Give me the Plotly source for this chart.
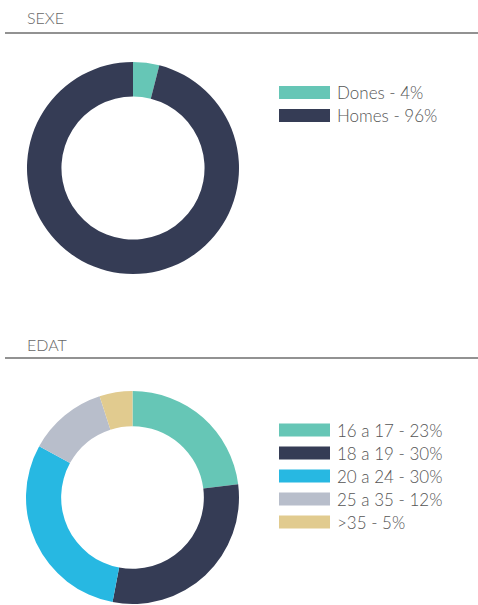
import plotly.graph_objects as go

W, H = 478, 605

sexe_labels = ["Dones", "Homes"]
sexe_values = [4, 96]
sexe_colors = ["#66C6B6", "#353C55"]

edat_labels = ["16 a 17", "18 a 19", "20 a 24", "25 a 35", ">35"]
edat_values = [23, 30, 30, 12, 5]
edat_colors = ["#66C6B6", "#353C55", "#27B8E2", "#B8BECB", "#E1CB8F"]

section_titles = ["SEXE", "EDAT"]

FONT = "Lato"
TXT = "#555555"

def px(x):
    return x / W

def py(y):
    return 1 - y / H

fig = go.Figure()

fig.add_trace(go.Pie(
    labels=sexe_labels, values=sexe_values,
    marker=dict(colors=sexe_colors, line=dict(width=0)),
    hole=0.675, sort=False, direction="clockwise", rotation=0,
    textinfo="none", showlegend=False,
    domain=dict(x=[px(27), px(239)], y=[py(274), py(62)]),
))
fig.add_trace(go.Pie(
    labels=edat_labels, values=edat_values,
    marker=dict(colors=edat_colors, line=dict(width=0)),
    hole=0.67, sort=False, direction="clockwise", rotation=0,
    textinfo="none", showlegend=False,
    domain=dict(x=[px(26), px(239)], y=[py(604), py(391)]),
))

shapes = []
annotations = []

for title, ty, ly in [(section_titles[0], 17, 33), (section_titles[1], 344, 358)]:
    annotations.append(dict(
        x=px(25), y=py(ty), xref="paper", yref="paper", text=title,
        showarrow=False, xanchor="left", yanchor="middle",
        font=dict(family=FONT, size=16, color="#666666", weight=300),
    ))
    shapes.append(dict(
        type="line", xref="paper", yref="paper",
        x0=px(5), x1=px(478), y0=py(ly), y1=py(ly),
        line=dict(color="#6e6e6e", width=1.5),
    ))

def legend(labels, values, colors, y_start, step):
    for i, (lab, val, col) in enumerate(zip(labels, values, colors)):
        yc = y_start + i * step
        shapes.append(dict(
            type="rect", xref="paper", yref="paper",
            x0=px(279), x1=px(330), y0=py(yc - 6.5), y1=py(yc + 6.5),
            fillcolor=col, line=dict(width=0),
        ))
        annotations.append(dict(
            x=px(335), y=py(yc), xref="paper", yref="paper",
            text=f"{lab} - {val}%", showarrow=False,
            xanchor="left", yanchor="middle",
            font=dict(family=FONT, size=17, color=TXT, weight=300),
        ))

legend(sexe_labels, sexe_values, sexe_colors, 92.5, 23)
legend(edat_labels, edat_values, edat_colors, 430, 23)

fig.update_layout(
    width=W, height=H,
    margin=dict(l=0, r=0, t=0, b=0),
    paper_bgcolor="white", plot_bgcolor="white",
    shapes=shapes, annotations=annotations,
)

fig.write_html(
    "out.html",
    config={"displayModeBar": False},
    post_script="document.body.style.margin='0';document.body.style.overflow='hidden';",
)
